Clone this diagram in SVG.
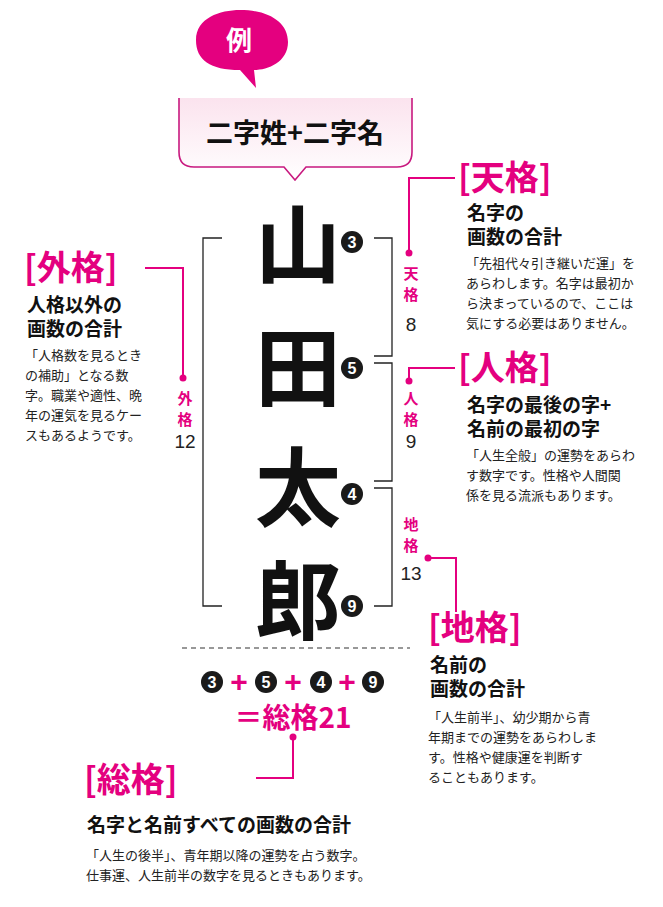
<svg xmlns="http://www.w3.org/2000/svg" width="663" height="907" viewBox="0 0 663 907">
<defs>
<linearGradient id="pg" x1="0" y1="0" x2="0" y2="1"><stop offset="0" stop-color="#fbe3ee"/><stop offset="1" stop-color="#fff"/></linearGradient>
<style>
text{font-family:"Noto Sans CJK JP","Noto Sans",sans-serif}
.big{font-size:86px;font-weight:700;fill:#111;text-anchor:middle}
.pk{fill:#e4007f}
.pl{stroke:#e4007f;stroke-width:2;fill:none}
.bk{stroke:#222;stroke-width:1.3;fill:none}
.h{font-size:34px;font-weight:700;fill:#e4007f}
.s{font-size:19px;font-weight:700;fill:#111}
.b{font-size:13px;fill:#222}
.v{font-size:15px;font-weight:700;fill:#e4007f;text-anchor:middle}
.n{font-size:19px;fill:#222;text-anchor:middle;font-family:"Liberation Sans",sans-serif}
.cn{font-size:16px;font-weight:700;fill:#fff;text-anchor:middle;font-family:"Liberation Sans",sans-serif}
.ps{font-size:30px;font-weight:700;fill:#e4007f;text-anchor:middle;font-family:"Liberation Sans",sans-serif}
</style>
</defs>
<g id="balloon"><path class="pk" d="M196 40 C196 18 220 10 240 10 C268 10 288 22 288 42 C288 62 268 70 254 70 L256 88 L240 70 C210 70 196 60 196 40Z"/><text x="239" y="50" font-size="26" font-weight="700" fill="#fff" text-anchor="middle">例</text></g>
<g id="title"><path d="M179 98 V152 Q179 167 194 167 H284 L295 180 L306 167 H397 Q412 167 412 152 V98" fill="url(#pg)" stroke="#c8197f" stroke-width="1.6"/><text x="295" y="143" font-size="27" font-weight="700" fill="#111" text-anchor="middle">二字姓+二字名</text></g>
<g id="name"><text class="big" x="298" y="277">山</text><text class="big" x="298" y="400">田</text><text class="big" x="298" y="520">太</text><text class="big" x="298" y="633">郎</text>
<circle cx="352" cy="242" r="11" fill="#1a1a1a"/><text class="cn" x="352" y="248">3</text>
<circle cx="352" cy="368" r="11" fill="#1a1a1a"/><text class="cn" x="352" y="374">5</text>
<circle cx="352" cy="494" r="11" fill="#1a1a1a"/><text class="cn" x="352" y="500">4</text>
<circle cx="352" cy="606" r="11" fill="#1a1a1a"/><text class="cn" x="352" y="612">9</text></g>
<g id="connectors">
<path class="bk" d="M222 238 H203 V606 H222"/>
<path class="bk" d="M374 238 H392 V356 H374 M374 363 H392 V481 H374 M374 488 H392 V606 H374"/>
<path class="pl" d="M409 253 V178 H455"/><circle class="pk" cx="409" cy="253" r="3.5"/>
<path class="pl" d="M409 381 V368 H455"/><circle class="pk" cx="409" cy="381" r="3.5"/>
<path class="pl" d="M183 378 V268 H145"/><circle class="pk" cx="183" cy="378" r="3.5"/>
<path class="pl" d="M428 558 H456 V612"/><circle class="pk" cx="428" cy="558" r="3.5"/>
<path class="pl" d="M293 737 V778 H256"/><circle class="pk" cx="293" cy="737" r="3.5"/>
<line x1="182" y1="648" x2="410" y2="648" stroke="#333" stroke-width="1.2" stroke-dasharray="5 4"/>
</g>
<g id="v-labels"><text class="v" x="411" y="279">天</text><text class="v" x="411" y="300">格</text><text class="n" x="411" y="331">8</text>
<text class="v" x="411" y="404">人</text><text class="v" x="411" y="425">格</text><text class="n" x="411" y="448">9</text>
<text class="v" x="411" y="530">地</text><text class="v" x="411" y="551">格</text><text class="n" x="411" y="580">13</text>
<text class="v" x="185" y="404">外</text><text class="v" x="185" y="425">格</text><text class="n" x="185" y="448">12</text></g>
<g id="tenkaku"><text class="h" x="458" y="190">[天格]</text><text class="s" x="467" y="220">名字の</text><text class="s" x="467" y="244">画数の合計</text>
<text class="b" x="466" y="268">「先祖代々引き継いだ運」を</text><text class="b" x="466" y="288">あらわします。名字は最初か</text><text class="b" x="466" y="308">ら決まっているので、ここは</text><text class="b" x="466" y="328">気にする必要はありません。</text></g>
<g id="jinkaku"><text class="h" x="458" y="380">[人格]</text><text class="s" x="467" y="412">名字の最後の字+</text><text class="s" x="467" y="436">名前の最初の字</text>
<text class="b" x="466" y="460">「人生全般」の運勢をあらわ</text><text class="b" x="466" y="480">す数字です。性格や人間関</text><text class="b" x="466" y="500">係を見る流派もあります。</text></g>
<g id="gaikaku"><text class="h" x="24" y="280">[外格]</text><text class="s" x="27" y="312">人格以外の</text><text class="s" x="27" y="336">画数の合計</text>
<text class="b" x="25" y="360">「人格数を見るとき</text><text class="b" x="25" y="380">の補助」となる数</text><text class="b" x="25" y="400">字。職業や適性、晩</text><text class="b" x="25" y="420">年の運気を見るケー</text><text class="b" x="25" y="440">スもあるようです。</text></g>
<g id="chikaku"><text class="h" x="428" y="640">[地格]</text><text class="s" x="430" y="672">名前の</text><text class="s" x="430" y="696">画数の合計</text>
<text class="b" x="428" y="722">「人生前半」、幼少期から青</text><text class="b" x="428" y="742">年期までの運勢をあらわしま</text><text class="b" x="428" y="762">す。性格や健康運を判断す</text><text class="b" x="428" y="782">ることもあります。</text></g>
<g id="soukaku-formula">
<circle cx="212" cy="682" r="11" fill="#1a1a1a"/><text class="cn" x="212" y="688">3</text>
<text class="ps" x="239" y="692">+</text>
<circle cx="266" cy="682" r="11" fill="#1a1a1a"/><text class="cn" x="266" y="688">5</text>
<text class="ps" x="293" y="692">+</text>
<circle cx="321" cy="682" r="11" fill="#1a1a1a"/><text class="cn" x="321" y="688">4</text>
<text class="ps" x="347" y="692">+</text>
<circle cx="373" cy="682" r="11" fill="#1a1a1a"/><text class="cn" x="373" y="688">9</text>
<text x="293" y="728" font-size="28" font-weight="700" class="pk" text-anchor="middle">＝総格21</text></g>
<g id="soukaku"><text class="h" x="84" y="792">[総格]</text><text class="s" x="87" y="832">名字と名前すべての画数の合計</text>
<text class="b" x="86" y="860">「人生の後半」、青年期以降の運勢を占う数字。</text><text class="b" x="86" y="880">仕事運、人生前半の数字を見るときもあります。</text></g>
</svg>
